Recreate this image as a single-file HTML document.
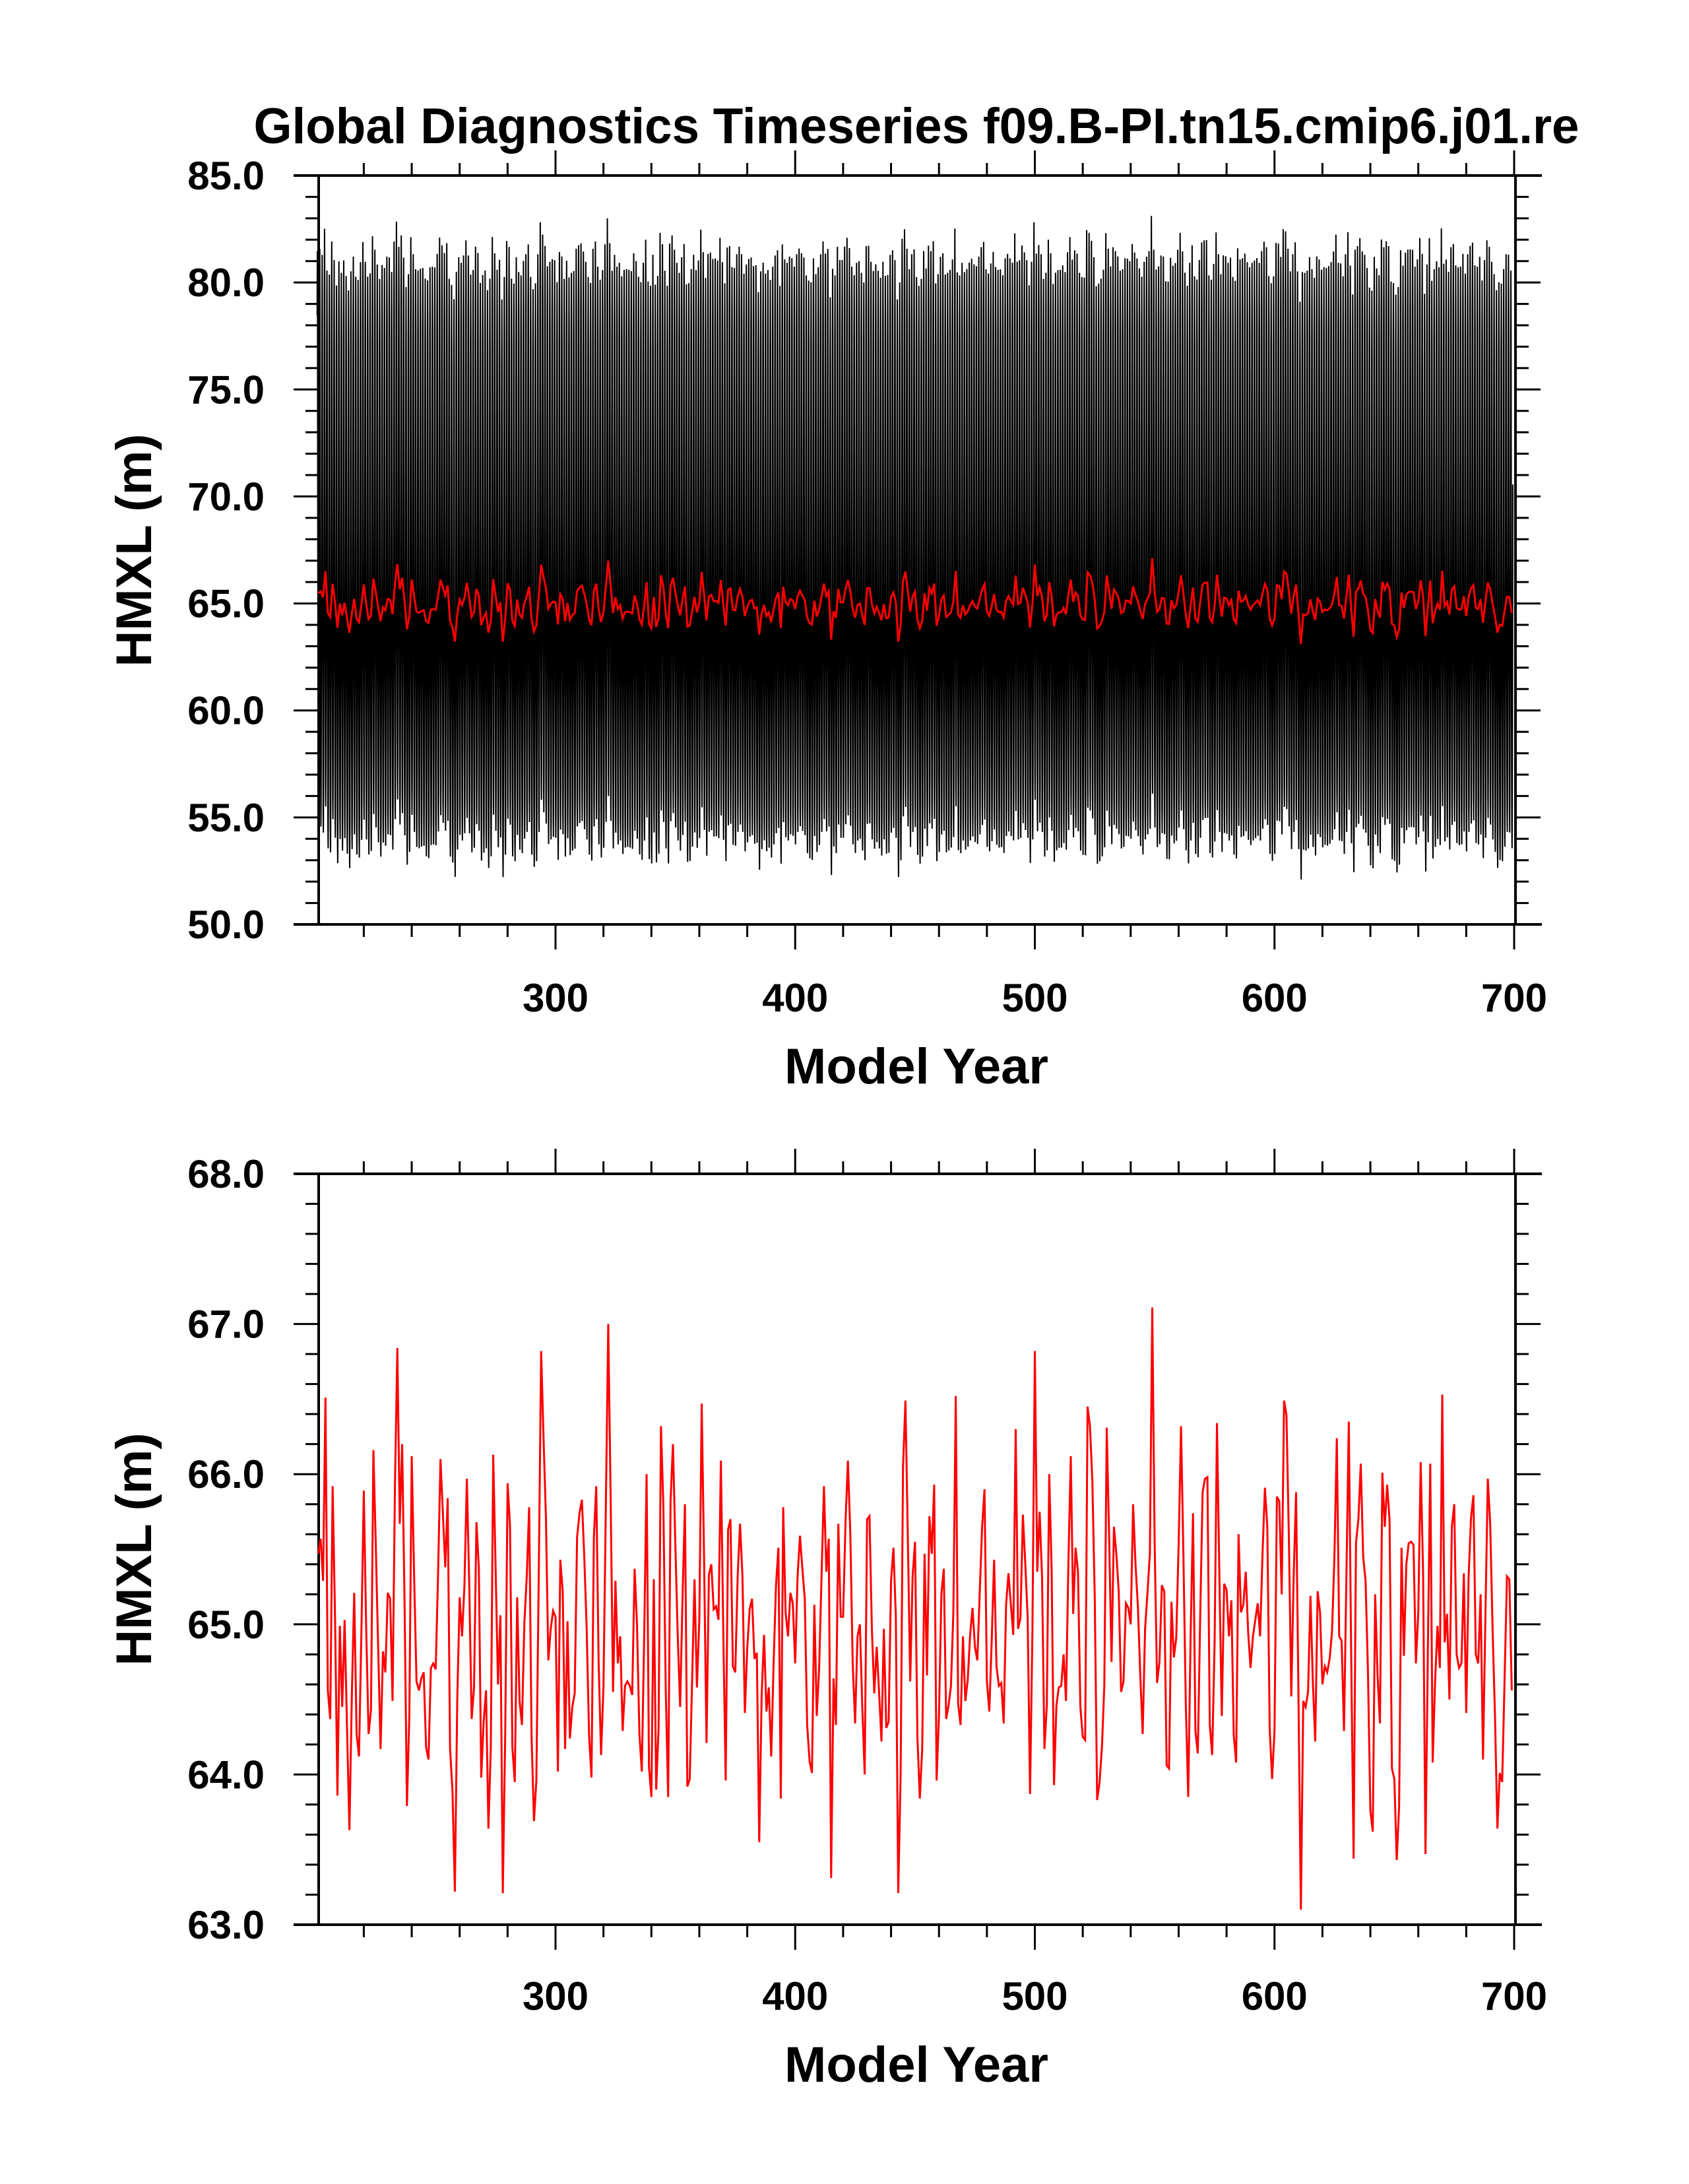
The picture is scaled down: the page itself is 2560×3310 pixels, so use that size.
<!DOCTYPE html>
<html>
<head>
<meta charset="utf-8">
<style>
html,body{margin:0;padding:0;background:#fff;}
svg{display:block;}
text{font-family:"Liberation Sans",Arial,sans-serif;font-weight:bold;fill:#000;}
</style>
</head>
<body>
<svg id="chart" width="2560" height="3310" viewBox="0 0 2560 3310" xmlns="http://www.w3.org/2000/svg">
<rect width="2560" height="3310" fill="#fff"/>
<text x="1389" y="217" font-size="76" text-anchor="middle" textLength="2009" lengthAdjust="spacingAndGlyphs">Global Diagnostics Timeseries f09.B-PI.tn15.cmip6.j01.re</text>
<g id="top"></g>
<g id="bot"></g>
</svg>
<script>
// Annual-mean HMXL (m), model years 201..700
const startYear = 201;
const annualA = [65.47,65.57,65.29,66.51,64.56,64.37,65.92,65.05,63.86,64.99,64.45,65.03,64.31,63.63,64.52,65.21,64.27,64.12,64.95,65.89,64.97,64.27,64.43,66.16,65.53,64.84,64.17,64.82,64.68,65.21,65.17,64.49,65.92,66.84,65.67,66.20,65.16,63.79,64.39,66.12,65.32,64.62,64.56,64.64,64.68,64.18,64.10,64.71,64.74,64.70,65.34,66.10,65.74,65.38,65.84,64.17,63.89,63.22,64.50,65.18,64.92,65.26,65.97,65.26,64.37,64.58,65.68,65.38,63.98,64.35,64.56,63.64,64.18,66.13,65.37,64.60,65.06,63.21,64.26,65.94,65.66,64.18,63.95,65.18,64.49,64.33,65.01,65.32,65.78,64.26,63.69,63.96,65.32,66.82,66.24,65.71,64.76,64.97,65.09,65.05,64.02,65.43,65.22,64.17,65.02,64.24,64.45,64.54,65.58,65.74,65.83,65.45,64.97,64.26,63.98,65.58,65.92,64.74,64.13,64.58,65.79,67.00,65.84,64.55,65.29,64.74];
const annualB = [64.92,64.29,64.59,64.62,64.59,64.53,65.37,65.00,64.27,64.02,64.92,66.00,64.05,63.85,65.30,63.90,64.31,66.32,65.79,64.55,63.85,65.82,66.20,65.53,64.92,64.45,65.18,65.80,63.92,63.97,64.63,65.30,64.58,65.03,66.47,65.42,64.21,65.33,65.40,65.10,65.12,65.03,66.09,64.95,63.96,65.63,65.70,64.72,64.68,65.32,65.67,65.32,64.41,64.84,65.10,65.17,64.77,64.81,63.55,64.52,64.93,64.42,64.58,64.12,64.74,65.26,65.51,63.84,65.78,65.08,64.92,65.21,65.14,64.74,65.32,65.59,65.37,65.17,64.33,64.09,64.01,65.13,64.39,64.71,65.32,65.92,65.35,65.57,63.31,64.64,64.33,65.67,65.05,65.05,65.68,66.09,65.61,64.74,64.34,64.92,65.00,64.45,64.00,65.70,65.72,64.97,64.54,64.85,64.55,64.22,64.97,64.31,64.35,65.29,65.51,65.05,63.21,64.00,66.05,66.49,65.58,64.62,65.32,65.55,64.25];
const annualC = [63.84,64.17,65.47,64.66,65.72,65.47,65.93,63.96,64.39,65.20,65.37,64.37,64.46,64.59,65.08,66.52,64.47,64.33,64.92,64.49,64.63,64.93,65.11,64.85,64.76,65.21,65.65,65.90,64.62,64.42,64.89,65.43,64.72,64.59,64.61,64.34,65.13,65.34,65.13,64.93,66.30,64.97,65.04,65.73,65.41,65.05,63.87,64.97,66.82,65.35,65.75,65.32,64.17,64.46,66.00,65.37,63.93,64.46,64.58,64.59,64.80,64.49,65.41,66.12,65.07,65.51,65.35,64.45,64.25,64.23,66.45,66.32,65.95,65.18,63.83,63.95,64.18,64.60,66.31,65.58,64.75,65.65,65.47,65.22,64.55,64.62,65.14,65.11,65.00,65.80,65.40,65.12,64.66,64.27,64.97,65.21,65.47,67.11,65.53,64.61,64.75,65.26,65.22,64.06,64.04,65.15,64.78,64.91,65.53,66.32,65.45,64.46,63.85,64.92,65.74,64.29,64.14,65.05,65.88,65.97,65.98,64.33,64.13,64.87,66.34];
const annualD = [65.32,64.39,65.27,65.23,64.92,65.16,64.26,64.08,65.60,65.08,65.13,65.35,64.95,64.71,64.92,65.03,65.14,64.92,65.47,65.91,65.65,64.30,63.97,64.29,65.85,65.82,65.20,66.49,66.39,65.58,64.52,65.32,65.88,64.52,63.10,64.49,64.45,64.55,65.19,64.62,64.22,65.22,65.08,64.60,64.72,64.68,64.77,64.95,65.45,66.24,64.92,64.89,64.29,65.32,66.35,64.79,63.44,65.54,65.70,66.07,65.45,65.29,64.68,63.76,63.62,65.20,64.66,64.34,66.01,65.65,65.93,65.70,64.04,63.97,63.43,63.79,65.51,64.79,65.40,65.54,65.55,65.53,64.74,65.08,66.08,65.34,63.47,64.84,66.07,64.08,64.62,64.99,64.71,66.53,64.88,65.07,64.50,65.65,65.80,64.80,64.71,64.74,65.34,64.41,65.32,65.71,65.86,64.80,64.74,65.20,64.10,65.05,65.97,65.67,64.97,64.39,63.64,64.01,63.95,64.63,65.32,65.30,64.56];
// Monthly climatological anomaly (m), Jan..Dec
const monthlyAnom = [13.0,16.0,13.0,4.0,-3.0,-7.0,-10.0,-11.0,-9.0,-5.0,-1.0,6.0];
const xTickValues = [300,400,500,600,700];
const topYTicks = ["85.0","80.0","75.0","70.0","65.0","60.0","55.0","50.0"];
const botYTicks = ["68.0","67.0","66.0","65.0","64.0","63.0"];

const annual = annualA.concat(annualB, annualC, annualD);
const NS = "http://www.w3.org/2000/svg";
function mk(tag, attrs, parent){const e=document.createElementNS(NS,tag);for(const k in attrs)e.setAttribute(k,attrs[k]);parent.appendChild(e);return e;}

const X0 = 842, PXY = 3.6325;
function xScale(yr){return X0 + (yr-300)*PXY;}
const LEFT = 483, RIGHT = 2297;

function panel(g, top, bottom, vmax, vmin, labels, minorStep, majorStep, xLabY, titleY, ylabCY, name){
  const yS = v => top + (vmax - v)*(bottom-top)/(vmax-vmin);
  const fr = mk("path",{d:`M445 ${top}H2337M445 ${bottom}H2337M${LEFT} ${top}V${bottom}M${RIGHT} ${top}V${bottom}`,stroke:"#000","stroke-width":4,fill:"none"},g);
  
  
  let d="";
  const n=Math.round((vmax-vmin)/minorStep);
  for(let k=0;k<=n;k++){
    const v=vmin+k*minorStep;
    const y=yS(v);
    const major=Math.abs(v/majorStep-Math.round(v/majorStep))<1e-6;
    const L = major?38:20;
    d+=`M${LEFT-L} ${y}H${LEFT}M${RIGHT} ${y}H${RIGHT+L}`;
  }
  for(let yr=220; yr<=700; yr+=20){
    const x=xScale(yr); const L=(yr%100===0)?38:19;
    d+=`M${x} ${bottom}V${bottom+L}M${x} ${top}V${top-L}`;
  }
  const tk = mk("path",{d:d,stroke:"#000","stroke-width":3,fill:"none"},g);
  
  
  labels.forEach(s=>{
    const t=mk("text",{x:401,y:yS(parseFloat(s))+21,"font-size":60,"text-anchor":"end"},g);
    t.textContent=s;
    
    
  });
  xTickValues.forEach(v=>{
    const t=mk("text",{x:xScale(v),y:xLabY,"font-size":60,"text-anchor":"middle"},g);
    t.textContent=String(v);
    
    
  });
  const xt=mk("text",{x:1389,y:titleY,"font-size":76,"text-anchor":"middle"},g);
  xt.textContent="Model Year";
  
  
  const yt=mk("text",{x:0,y:0,"font-size":76,"text-anchor":"middle",transform:`translate(229 ${ylabCY}) rotate(-90)`},g);
  yt.textContent="HMXL (m)";
  
  
  return yS;
}

const gTop=document.getElementById("top"), gBot=document.getElementById("bot");
const yTop = panel(gTop, 266, 1401, 85, 50, topYTicks, 1, 5, 1533, 1642, 834, "top");
const yBot = panel(gBot, 1779, 2917, 68, 63, botYTicks, 0.2, 1, 3046, 3155, 2348, "bottom");

let pts=[];
annual.forEach((a,i)=>{
  monthlyAnom.forEach((m,j)=>{
    pts.push(xScale(startYear+i+(j-5.5)/12).toFixed(2)+","+yTop(a+m).toFixed(1));
  });
});
const mon=mk("polyline",{points:pts.join(" "),fill:"none",stroke:"#000","stroke-width":2.0},gTop);



const ptsT=annual.map((a,i)=>xScale(startYear+i).toFixed(2)+","+yTop(a).toFixed(1)).join(" ");
const redT=mk("polyline",{points:ptsT,fill:"none",stroke:"#ff0000","stroke-width":3},gTop);


const ptsB=annual.map((a,i)=>xScale(startYear+i).toFixed(2)+","+yBot(a).toFixed(1)).join(" ");
const redB=mk("polyline",{points:ptsB,fill:"none",stroke:"#ff0000","stroke-width":3},gBot);


</script>
</body>
</html>
